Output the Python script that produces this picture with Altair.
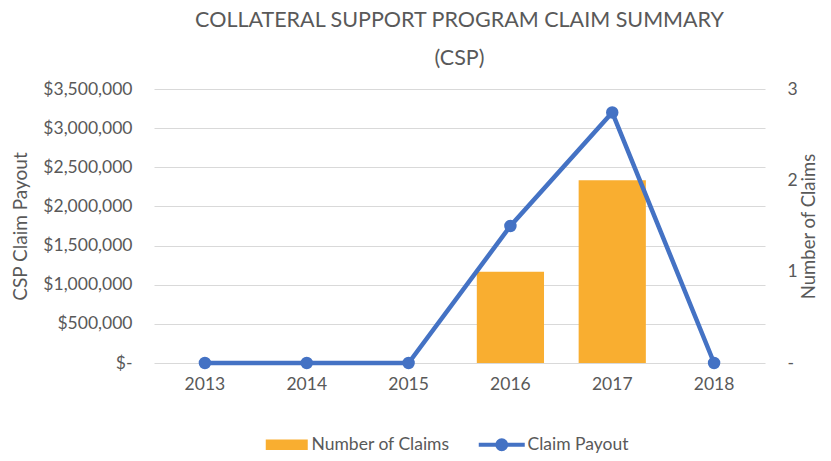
import altair as alt
import pandas as pd

years = ["2013", "2014", "2015", "2016", "2017", "2018"]
claims = [0, 0, 0, 1, 2, 0]
payout = [0, 0, 0, 1750000, 3200000, 0]

df = pd.DataFrame({"Year": years, "Claims": claims, "Payout": payout,
                   "bar_s": ["Number of Claims"] * 6, "line_s": ["Claim Payout"] * 6})

FONT = "Lato"
GREY = "#595959"
ORANGE = "#F9AE30"
BLUE = "#4472C4"
LS = 17.5

x = alt.X("Year:N", title=None,
          scale=alt.Scale(paddingInner=0.34, paddingOuter=0.17),
          axis=alt.Axis(labelAngle=0, labelFontSize=LS, labelColor=GREY, labelFont=FONT,
                        ticks=False, domain=False, labelPadding=12))

bars = alt.Chart(df).mark_bar().encode(
    x=x,
    y=alt.Y("Claims:Q", title="Number of Claims",
            scale=alt.Scale(domain=[0, 3], nice=False),
            axis=alt.Axis(orient="right", values=[0, 1, 2, 3], grid=False, ticks=False,
                          domain=False, labelFontSize=LS, labelColor=GREY, labelFont=FONT,
                          labelPadding=22,
                          labelExpr="datum.value == 0 ? '-' : datum.label",
                          titleFontSize=18.5, titleColor=GREY, titleFont=FONT, titleAngle=270,
                          titleBaseline="top",
                          titleFontWeight="normal", titlePadding=2)),
    color=alt.Color("bar_s:N", scale=alt.Scale(domain=["Number of Claims"], range=[ORANGE]),
                    legend=alt.Legend(title=None, orient="none", legendX=124, legendY=347,
                                      symbolType="M-4.2,-1.05H4.2V1.05H-4.2Z", symbolSize=100,
                                      symbolStrokeWidth=0, labelFont=FONT, labelFontSize=LS,
                                      labelColor=GREY, labelOffset=16)),
)

line = alt.Chart(df).mark_line(strokeWidth=4.5, point=alt.OverlayMarkDef(size=110, filled=True, color=BLUE)).encode(
    x=x,
    y=alt.Y("Payout:Q", title="CSP Claim Payout",
            scale=alt.Scale(domain=[0, 3500000], nice=False),
            axis=alt.Axis(orient="left", values=list(range(0, 3500001, 500000)), grid=True,
                          gridColor="#D9D9D9", gridWidth=1, ticks=False, domain=False,
                          labelFontSize=LS, labelColor=GREY, labelFont=FONT, labelPadding=22,
                          labelExpr="datum.value == 0 ? '$-' : '$' + format(datum.value, ',')",
                          titleFontSize=19, titleColor=GREY, titleFont=FONT,
                          titleFontWeight="normal", titlePadding=12)),
    stroke=alt.Stroke("line_s:N", scale=alt.Scale(domain=["Claim Payout"], range=[BLUE]),
                      legend=alt.Legend(title=None, orient="none", legendX=339, legendY=347,
                                        symbolType="M-4.6,0H4.6M0.9,0A0.9,0.9,0,1,1,-0.9,0A0.9,0.9,0,1,1,0.9,0",
                                        symbolSize=100, symbolStrokeWidth=4, symbolFillColor=BLUE,
                                        labelFont=FONT, labelFontSize=LS,
                                        labelColor=GREY, labelOffset=17)),
)

chart = alt.layer(bars, line).resolve_scale(y="independent", color="independent").properties(
    width=611, height=274,
    title=alt.TitleParams(["COLLATERAL SUPPORT PROGRAM CLAIM SUMMARY", "(CSP)"],
                          font=FONT, fontSize=21.5, fontWeight="normal", color=GREY,
                          lineHeight=38, anchor="middle", offset=11),
    autosize=alt.AutoSizeParams(type="none"),
    padding={"left": 146, "top": 81, "right": 58, "bottom": 90},
).configure_view(stroke=None).configure_axisX(domain=True, domainColor="#D9D9D9", domainWidth=1)

chart.save("out.html", embed_options={"renderer": "svg", "actions": False})
